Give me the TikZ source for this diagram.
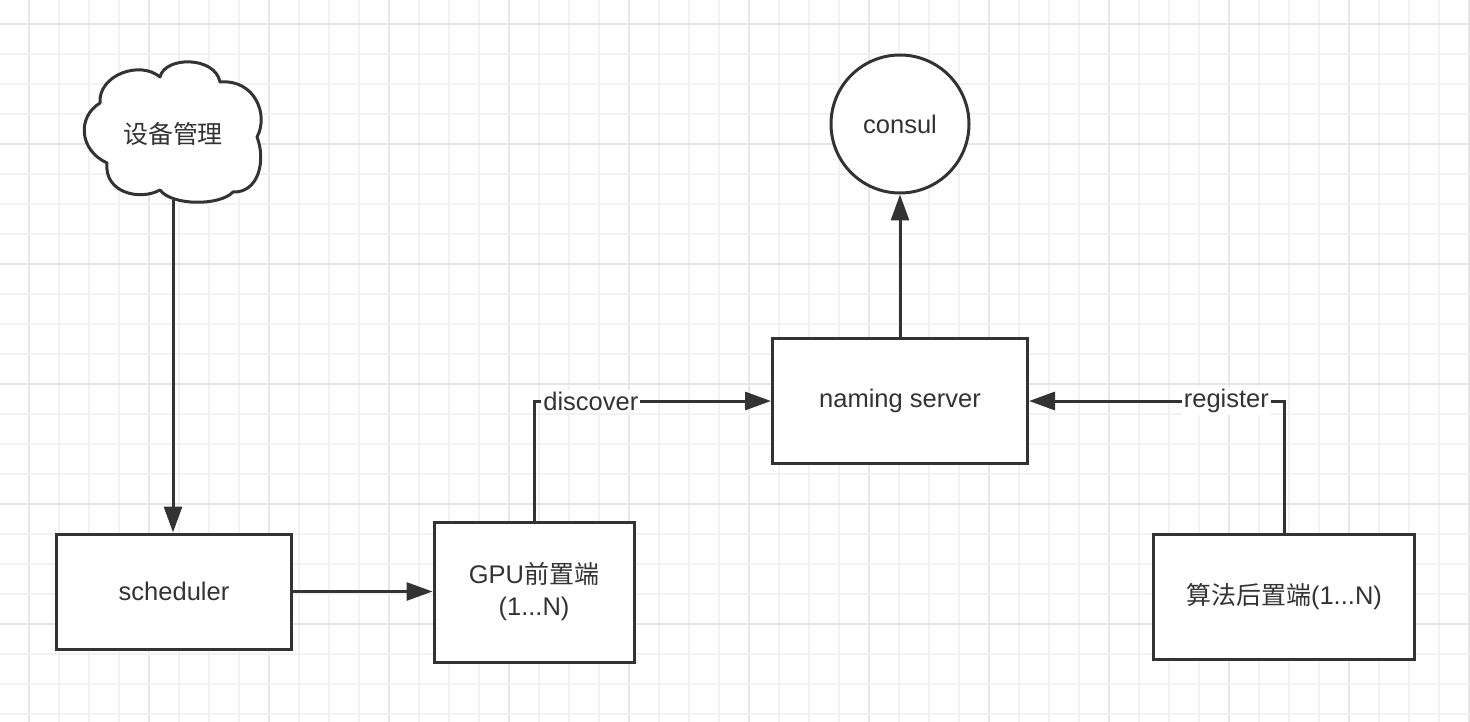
\documentclass[tikz,border=0pt]{standalone}
\usepackage{fontspec}
\setmainfont{Liberation Sans}
\newfontfamily\cjk[Scale=0.98]{Noto Sans CJK SC}
\usetikzlibrary{arrows.meta}
\definecolor{ink}{HTML}{333333}
\definecolor{gridminor}{HTML}{F2F2F2}
\definecolor{gridmajor}{HTML}{E6E6E6}
\tikzset{
  box/.style={draw=ink, line width=3pt, fill=white, rectangle, inner sep=0pt,
    text=ink, align=center, font=\fontsize{25.5}{32}\selectfont},
  txt/.style={text=ink, inner sep=0pt, font=\fontsize{25.5}{32}\selectfont},
  conn/.style={draw=ink, line width=3pt, -{Triangle[length=26pt,width=18pt]}},
  lbl/.style={fill=white, text=ink, inner sep=2pt, font=\fontsize{25.5}{32}\selectfont},
}
\begin{document}
\begin{tikzpicture}[x=1pt,y=-1pt]
\useasboundingbox (0,0) rectangle (1470,722);
\fill[white] (0,0) rectangle (1470,722);
% grid
\foreach \k in {0,...,48} {
  \pgfmathtruncatemacro{\m}{mod(\k,4)}
  \ifnum\m=0
    \draw[gridmajor, line width=1.4pt] ({29+30*\k},0) -- ({29+30*\k},722);
  \else
    \draw[gridminor, line width=1.4pt] ({29+30*\k},0) -- ({29+30*\k},722);
  \fi
}
\foreach \k in {0,...,23} {
  \pgfmathtruncatemacro{\m}{mod(\k,4)}
  \ifnum\m=0
    \draw[gridmajor, line width=1.4pt] (0,{24+30*\k}) -- (1470,{24+30*\k});
  \else
    \draw[gridminor, line width=1.4pt] (0,{24+30*\k}) -- (1470,{24+30*\k});
  \fi
}
% cloud
\draw[ink, line width=3pt, fill=white, line join=round]
  (100,103) .. controls (98,75) and (140,60) .. (160,77)
  .. controls (165,56) and (215,56) .. (220,82)
  .. controls (255,79) and (269,115) .. (257,137)
  .. controls (266,160) and (259,193) .. (233,192)
  .. controls (220,206) and (172,206) .. (160,190)
  .. controls (140,201) and (104,193) .. (107,163)
  .. controls (79,150) and (77,117) .. (100,103) -- cycle;
\node[txt] (cloud) at (173,134) {\cjk 设备管理};
\coordinate (cloudb) at (173,200);

% nodes
\node[box, minimum width=235pt, minimum height=115pt] (sched) at (174,591.5) {\raisebox{-2pt}{scheduler}};
\node[box, minimum width=200pt, minimum height=140pt] (gpu) at (534,592) {GPU{\cjk 前置端}\\(1...N)};
\node[box, minimum width=255pt, minimum height=125pt] (naming) at (900,401) {\raisebox{-2pt}{naming server}};
\node[box, minimum width=261pt, minimum height=125pt] (algo) at (1284,597) {\raisebox{-2pt}{{\cjk 算法后置端}(1...N)}};
\node[box, circle, minimum size=138pt] (consul) at (900,124) {consul};

% connectors
\draw[conn] (cloudb) -- (cloudb |- sched.north);
\draw[conn] (sched.east) -- (sched.east -| gpu.west);
\draw[conn] (gpu.north) |- node[lbl, pos=0.62] {\raisebox{-2pt}{discover}} (naming.west);
\draw[conn] (algo.north) |- node[lbl, pos=0.613] {\raisebox{-2pt}{register}} (naming.east);
\draw[conn] (naming.north) -- (consul.south);
\end{tikzpicture}
\end{document}
